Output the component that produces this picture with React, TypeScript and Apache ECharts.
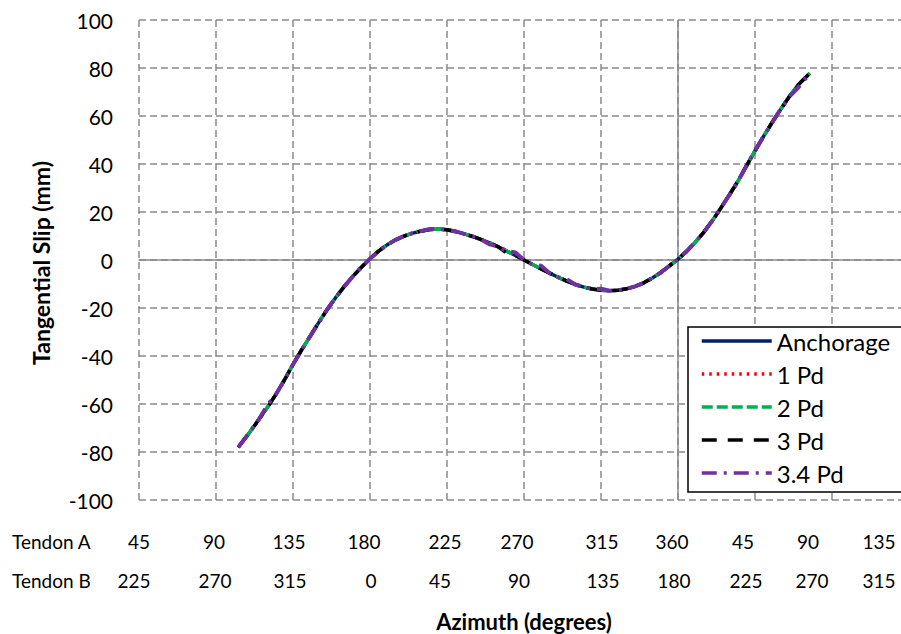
import React, { useEffect, useRef } from "react";
import * as echarts from "echarts";

// Azimuth of Tendon A, continuous (degrees); the vertical solid axis sits at 360
const AXIS_ORIGIN = 360;
const azimuthA = [103,110,115,120,125,130,135,140,145,150,155,160,165,170,175,180,185,190,195,200,205,210,215,220,225,230,235,240,245,250,255,260,265,270,275,280,285,290,295,300,305,310,315,320,325,330,335,340,345,350,355,360,365,370,375,380,385,390,395,400,405,410,415,420,425,430,437];

const anchorage = [-78,-71.5,-66.5,-61.5,-56,-50,-43.5,-37.5,-31.8,-26.1,-20.6,-15.6,-11.0,-6.8,-3.0,0.5,3.7,6.3,8.4,10,11.2,12.1,12.7,12.9,12.6,11.9,10.9,9.8,8.5,7.1,5.5,3.7,1.9,0,-1.9,-3.7,-5.5,-7.2,-8.8,-10.2,-11.3,-12.1,-12.6,-12.8,-12.6,-12.0,-11.0,-9.5,-7.5,-5.2,-2.4,0.3,3.6,7.3,11.5,16.3,21.6,27.1,32.8,39.2,45.5,51.5,57.3,62.8,68.0,72.8,77.8];
const pd1 = [-78,-71.6,-66.4,-61.5,-56,-50.1,-43.5,-37.5,-31.8,-26.1,-20.6,-15.6,-11.0,-6.8,-3.0,0.5,3.7,6.3,8.4,10,11.2,12.1,12.7,12.9,12.6,11.9,10.9,9.8,8.5,7.1,5.5,3.8,1.9,0,-1.8,-3.7,-5.5,-7.2,-8.8,-10.2,-11.3,-12.1,-12.6,-12.8,-12.6,-12.0,-11.0,-9.5,-7.5,-5.2,-2.4,0.3,3.6,7.3,11.5,16.3,21.6,27.1,32.8,39.2,45.5,51.5,57.3,62.8,68.0,72.8,77.8];
const pd2 = [-78,-71.5,-66.5,-61.4,-56,-50,-43.5,-37.5,-31.8,-26.1,-20.6,-15.6,-11.0,-6.8,-3.0,0.5,3.7,6.3,8.4,10,11.2,12.1,12.7,12.9,12.6,11.9,10.9,9.8,8.5,7.1,5.5,3.7,1.9,0,-1.9,-3.7,-5.4,-7.2,-8.8,-10.2,-11.3,-12.1,-12.6,-12.8,-12.6,-12.0,-11.0,-9.5,-7.5,-5.2,-2.4,0.3,3.6,7.3,11.5,16.3,21.6,27.1,32.8,39.2,45.5,51.5,57.3,62.8,68.0,72.8,77.8];
const pd3 = [-78,-71.5,-66.5,-61.5,-56,-50,-43.5,-37.5,-31.8,-26.1,-20.6,-15.6,-11.0,-6.8,-3.0,0.5,3.7,6.3,8.4,10,11.2,12.1,12.7,12.9,12.6,11.9,10.9,9.8,8.5,7.1,5.5,2.8,1.9,0,-1.9,-3.7,-5.5,-7.0,-8.8,-10.2,-11.3,-12.1,-12.6,-12.8,-12.6,-12.0,-11.0,-9.5,-7.5,-5.2,-2.4,0.3,3.6,7.3,11.5,16.3,21.6,27.1,32.8,39.2,45.5,51.5,57.3,62.8,68.0,72.8,77.8];
const pd34 = [-78,-71.5,-66.5,-60.5,-56,-50,-43.5,-37.5,-31.8,-26.1,-20.6,-15.6,-11.0,-6.8,-3.0,0.5,3.7,6.3,8.4,10,11.2,12.1,12.9,12.9,12.6,11.9,10.9,9.8,8.5,6.5,5.5,3.7,3.1,0,-1.9,-2.4,-5.5,-7.2,-8.0,-10.2,-11.3,-12.1,-12.0,-12.8,-12.6,-12.0,-11.0,-9.5,-7.5,-5.2,-2.4,0.3,3.6,7.3,11.5,16.3,21.6,27.1,32.8,39.2,45.5,51.5,57.3,62.8,68.0,71.6,77.8];

const seriesNames = ["Anchorage", "1 Pd", "2 Pd", "3 Pd", "3.4 Pd"];
const seriesValues = [anchorage, pd1, pd2, pd3, pd34];

const yTicks = { min: -100, max: 100, step: 20 };
const xTicks = { min: -315, max: 135, step: 45 };

const tendonALabels = ["45","90","135","180","225","270","315","360","45","90","135"];
const tendonBLabels = ["225","270","315","0","45","90","135","180","225","270","315"];

// layout (pixel positions of the free-standing label text boxes)
const labelXA = [139,214,289,364,445,517,602,672,743,808,879];
const labelXB = [134,215,290,371,440,519,603,674,746,812,879];

const styles = [
  { color: "#002060", width: 3.5, type: "solid" as any },
  { color: "#FF0000", width: 3, type: [2.5, 5] as any },
  { color: "#00B050", width: 3.5, type: [11, 4] as any },
  { color: "#000000", width: 3.5, type: [15, 11] as any },
  { color: "#7030A0", width: 4, type: [15, 7, 3, 7] as any },
];

const GRID_COLOR = "#8a8a8a";
const FONT = "Lato";

export default function App() {
  const ref = useRef<HTMLDivElement>(null);
  useEffect(() => {
    if (!ref.current) return;
    const chart = echarts.init(ref.current, null, { renderer: "svg" });
    const series: any[] = seriesNames.map((name, i) => ({
      name,
      type: "line",
      symbol: "none",
      data: azimuthA.map((a, j) => [a - AXIS_ORIGIN, seriesValues[i][j]]),
      lineStyle: { color: styles[i].color, width: styles[i].width, type: styles[i].type },
      itemStyle: { color: styles[i].color },
      z: 3 + i,
    }));
    series[0].markLine = {
      silent: true,
      symbol: ["none", "none"],
      label: { show: false },
      lineStyle: { color: GRID_COLOR, width: 1.5, type: "solid" },
      data: [{ xAxis: 0 }],
      z: 1,
    };
    const graphic: any[] = [];
    graphic.push({
      type: "text",
      x: 41,
      y: 263,
      rotation: Math.PI / 2,
      style: {
        text: "Tangential Slip (mm)",
        fill: "#000",
        font: `bold 23px ${FONT}`,
        align: "center",
        verticalAlign: "middle",
        textAlign: "center",
        textVerticalAlign: "middle",
      },
    });
    const rowText = (txt: string, x: number, y: number, align: string) => ({
      type: "text",
      x,
      y,
      style: {
        text: txt,
        fill: "#000",
        font: `19px ${FONT}`,
        align,
        verticalAlign: "middle",
        textAlign: align,
        textVerticalAlign: "middle",
      },
    });
    graphic.push(rowText("Tendon A", 12, 541, "left"));
    graphic.push(rowText("Tendon B", 12, 580, "left"));
    tendonALabels.forEach((t, i) => graphic.push(rowText(t, labelXA[i], 541, "center")));
    tendonBLabels.forEach((t, i) => graphic.push(rowText(t, labelXB[i], 580, "center")));
    graphic.push({
      type: "text",
      x: 524,
      y: 621,
      style: {
        text: "Azimuth (degrees)",
        fill: "#000",
        font: `bold 22px ${FONT}`,
        align: "center",
        verticalAlign: "middle",
        textAlign: "center",
        textVerticalAlign: "middle",
      },
      z: 10,
    });
    graphic.push({
      type: "rect",
      shape: { x: 400, y: 596, width: 260, height: 15 },
      style: { fill: "#fff" },
      z: 11,
    });

    chart.setOption({
      animation: false,
      backgroundColor: "#fff",
      grid: { left: 139, top: 20, right: 11, bottom: 134, containLabel: false },
      xAxis: {
        type: "value",
        min: xTicks.min,
        max: xTicks.max,
        interval: xTicks.step,
        axisLine: { show: true, onZero: true, lineStyle: { color: GRID_COLOR, width: 1.5 } },
        axisTick: { show: false },
        axisLabel: { show: false },
        splitLine: { show: true, lineStyle: { color: GRID_COLOR, width: 1.5, type: [7, 4] } },
      },
      yAxis: {
        type: "value",
        min: yTicks.min,
        max: yTicks.max,
        interval: yTicks.step,
        axisLine: { show: false },
        axisTick: { show: false },
        axisLabel: { color: "#000", fontFamily: FONT, fontSize: 21, margin: 26 },
        splitLine: { show: true, lineStyle: { color: GRID_COLOR, width: 1.5, type: [7, 4] } },
      },
      legend: {
        orient: "vertical",
        left: 688,
        top: 327,
        padding: [2, 16, 7, 12],
        itemWidth: 70,
        itemHeight: 14,
        itemGap: 9,
        borderColor: "#000",
        borderWidth: 1.5,
        backgroundColor: "#fff",
        textStyle: { fontFamily: FONT, fontSize: 24, color: "#000", lineHeight: 24 },
        lineStyle: { width: 3.5 },
        itemStyle: { opacity: 0 },
        data: seriesNames,
        z: 20,
      },
      graphic,
      series,
    });
    return () => chart.dispose();
  }, []);
  return (
    <div style={{ position: "fixed", left: 0, top: 0, width: 901, height: 634, overflow: "hidden", background: "#fff" }}>
      <div ref={ref} style={{ position: "absolute", left: 0, top: 0, width: 920, height: 634 }} />
    </div>
  );
}
